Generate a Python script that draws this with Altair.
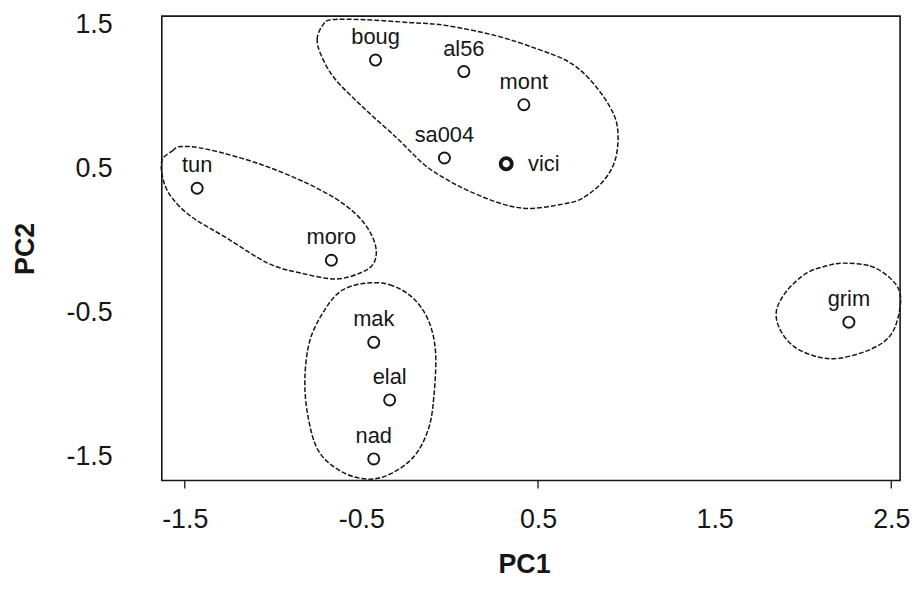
import altair as alt
import pandas as pd

# ---- data ----
names = ["boug", "al56", "mont", "sa004", "vici", "tun", "moro", "mak", "elal", "nad", "grim"]
pc1 = [-0.42, 0.08, 0.42, -0.03, 0.32, -1.43, -0.67, -0.43, -0.34, -0.43, 2.26]
pc2 = [1.25, 1.17, 0.94, 0.57, 0.53, 0.36, -0.14, -0.71, -1.11, -1.52, -0.57]
highlighted = ["vici"]

# hand-drawn group outlines (data units)
g1_x = [-0.72, -0.75, -0.73, -0.65, -0.48, -0.30, -0.15, -0.03, 0.11, 0.30, 0.45, 0.64, 0.75,
        0.87, 0.94, 0.95, 0.90, 0.79, 0.67, 0.49, 0.26, -0.02, -0.22, -0.48, -0.67]
g1_y = [1.49, 1.40, 1.29, 1.12, 0.91, 0.71, 0.53, 0.43, 0.34, 0.25, 0.22, 0.25, 0.29,
        0.41, 0.57, 0.78, 0.94, 1.12, 1.24, 1.33, 1.42, 1.49, 1.51, 1.53, 1.53]
g2_x = [-1.63, -1.57, -1.52, -1.37, -1.08, -0.80, -0.60, -0.48, -0.42, -0.43, -0.51, -0.65,
        -0.84, -1.03, -1.27, -1.46, -1.57, -1.62]
g2_y = [0.55, 0.62, 0.65, 0.63, 0.53, 0.39, 0.25, 0.11, -0.04, -0.16, -0.23, -0.27,
        -0.23, -0.16, 0.02, 0.16, 0.29, 0.41]
g3_x = [-0.48, -0.34, -0.21, -0.12, -0.08, -0.09, -0.12, -0.20, -0.33, -0.46, -0.61, -0.74,
        -0.80, -0.82, -0.79, -0.70, -0.61]
g3_y = [-0.30, -0.31, -0.40, -0.56, -0.78, -1.09, -1.31, -1.50, -1.62, -1.66, -1.61, -1.47,
        -1.24, -0.97, -0.69, -0.47, -0.35]
g4_x = [2.23, 2.38, 2.49, 2.55, 2.54, 2.49, 2.38, 2.21, 2.08, 1.95, 1.87, 1.85, 1.91, 2.02, 2.13]
g4_y = [-0.16, -0.18, -0.26, -0.37, -0.53, -0.67, -0.76, -0.82, -0.81, -0.74, -0.62, -0.49,
        -0.35, -0.23, -0.18]

x_labels = [-1.5, -0.5, 0.5, 1.5, 2.5]
y_labels = [-1.5, -0.5, 0.5, 1.5]
x_tickmarks = [-1.5, 0.5, 2.5]
x_domain = [-1.63, 2.55]
y_domain = [-1.67, 1.555]

# ---- tables ----
pts = pd.DataFrame({"name": names, "PC1": pc1, "PC2": pc2})
pts["bold"] = pts["name"].isin(highlighted)

rows = []
for gid, (gx, gy) in enumerate([(g1_x, g1_y), (g2_x, g2_y), (g3_x, g3_y), (g4_x, g4_y)]):
    for i, (a, b) in enumerate(zip(gx, gy)):
        rows.append({"g": gid, "i": i, "PC1": a, "PC2": b})
blobs = pd.DataFrame(rows)
ticks_df = pd.DataFrame({"v": x_tickmarks})

FONT = "Liberation Sans"
INK = "#161616"
lab_expr = "datum.value < 0 ? '-' + format(-datum.value, '.1f') : format(datum.value, '.1f')"

xs = alt.Scale(domain=x_domain, nice=False, zero=False)
ys = alt.Scale(domain=y_domain, nice=False, zero=False)

x_enc = alt.X("PC1:Q", scale=xs, axis=alt.Axis(
    values=x_labels, labelExpr=lab_expr, grid=False, domain=False, ticks=False, tickSize=0,
    labelFont=FONT, labelFontSize=27, labelColor=INK, labelPadding=26, labelFlush=False,
    title="PC1", titleFont=FONT, titleFontSize=27, titleFontWeight="bold", titleColor=INK,
    titleX=365, titleY=85, titleBaseline="middle", titleAlign="center"))
y_enc = alt.Y("PC2:Q", scale=ys, axis=alt.Axis(
    values=y_labels, labelExpr=lab_expr, grid=False, domain=False, ticks=False, tickSize=0,
    labelFont=FONT, labelFontSize=27, labelColor=INK, labelPadding=50, labelFlush=False,
    title="PC2", titleFont=FONT, titleFontSize=27, titleFontWeight="bold", titleColor=INK,
    titleX=-137, titleY=234, titleBaseline="middle", titleAlign="center", titleAngle=-90))

blob_layer = alt.Chart(blobs).mark_line(
    interpolate="cardinal-closed", stroke=INK, strokeWidth=1.5, strokeDash=[5, 2]
).encode(
    x=alt.X("PC1:Q", scale=xs), y=alt.Y("PC2:Q", scale=ys),
    detail="g:N", order="i:Q"
)

point_layer = alt.Chart(pts).mark_point(
    shape="circle", filled=False, size=125, color=INK, opacity=1
).encode(
    x=x_enc, y=y_enc,
    strokeWidth=alt.condition("datum.bold", alt.value(3.8), alt.value(1.9))
)

label_layer = alt.Chart(pts).transform_filter("!datum.bold").mark_text(
    font=FONT, fontSize=22, color=INK, baseline="alphabetic", align="center", dy=-16
).encode(x=alt.X("PC1:Q", scale=xs), y=alt.Y("PC2:Q", scale=ys), text="name:N")

label_bold = alt.Chart(pts).transform_filter("datum.bold").mark_text(
    font=FONT, fontSize=22, color=INK, baseline="alphabetic", align="left", dx=22, dy=7
).encode(x=alt.X("PC1:Q", scale=xs), y=alt.Y("PC2:Q", scale=ys), text="name:N")

tick_layer = alt.Chart(ticks_df).mark_rule(color=INK, strokeWidth=1.3).encode(
    x=alt.X("v:Q", scale=xs), y=alt.value(468), y2=alt.value(476)
)

chart = alt.layer(blob_layer, tick_layer, point_layer, label_layer, label_bold).properties(
    width=744, height=468,
    autosize=alt.AutoSizeParams(type="none"),
    padding={"left": 155, "top": 6, "right": 12, "bottom": 100},
    background="white",
).configure_view(stroke=INK, strokeWidth=1.6)

chart.save("out.html", embed_options={"renderer": "svg", "actions": False})
